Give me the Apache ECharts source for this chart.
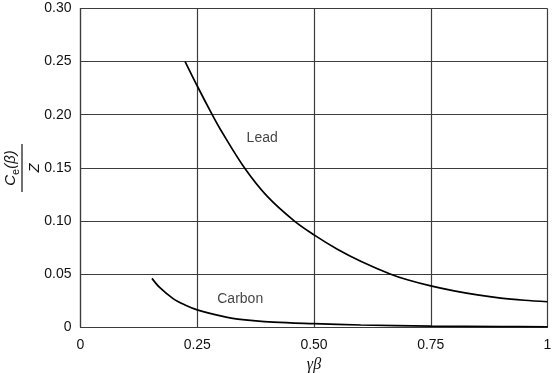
<!DOCTYPE html>
<html>
<head>
<meta charset="utf-8">
<script src="https://cdn.jsdelivr.net/npm/echarts@6/dist/echarts.min.js"></script>
<style>
html,body{margin:0;padding:0;background:#fff;}
#c{width:553px;height:373px;}
</style>
</head>
<body>
<div id="c"></div>
<script>
// Data
const leadX = [0.224, 0.25, 0.282, 0.30, 0.351, 0.40, 0.4575, 0.50, 0.55, 0.60, 0.663, 0.70, 0.75, 0.80, 0.85, 0.90, 0.95, 1.00];
const leadY = [0.250, 0.227, 0.200, 0.1858, 0.150, 0.123, 0.100, 0.0868, 0.0733, 0.062, 0.050, 0.0445, 0.0387, 0.034, 0.0302, 0.0272, 0.0252, 0.0238];
const carbonX = [0.153, 0.17, 0.199, 0.225, 0.25, 0.30, 0.342, 0.413, 0.50, 0.60, 0.75, 0.90, 1.00];
const carbonY = [0.0458, 0.037, 0.0265, 0.0205, 0.0161, 0.0105, 0.0072, 0.0045, 0.0031, 0.0019, 0.0009, 0.0004, 0.0002];
const xTickLabels = ['0', '0.25', '0.50', '0.75', '1'];
const yTickLabels = ['0', '0.05', '0.10', '0.15', '0.20', '0.25', '0.30'];
const curveLabels = ['Lead', 'Carbon'];
const curveLabelX = [0.389, 0.342];
const curveLabelY = [0.178, 0.0261];

const chart = echarts.init(document.getElementById('c'), null, {renderer: 'canvas'});
const font = 'Liberation Sans';
const gridColor = '#3c3c3c';
const textColor = '#111';

const lineSeries = (name, xs, ys) => ({
  name: name,
  type: 'line',
  smooth: 0.35,
  showSymbol: false,
  silent: true,
  lineStyle: {color: '#000', width: 1.7},
  data: xs.map((x, i) => [x, ys[i]])
});

chart.setOption({
  animation: false,
  backgroundColor: '#fff',
  grid: {left: 80.5, right: 5.5, top: 8.5, bottom: 46, containLabel: false, outerBoundsMode: 'none'},
  xAxis: {
    type: 'value', min: 0, max: 1, interval: 0.25,
    axisLine: {show: true, lineStyle: {color: gridColor, width: 1.2}},
    axisTick: {show: false},
    splitLine: {show: true, lineStyle: {color: gridColor, width: 1.2}},
    axisLabel: {
      color: textColor, fontFamily: font, fontSize: 14, margin: 11,
      formatter: (v) => xTickLabels[Math.round(v / 0.25)],
      showMaxLabel: true
    },
    name: 'γβ', nameLocation: 'middle', nameGap: 30,
    nameTextStyle: {fontFamily: 'Liberation Serif', fontStyle: 'italic', fontSize: 16, color: textColor}
  },
  yAxis: {
    type: 'value', min: 0, max: 0.3, interval: 0.05,
    axisLine: {show: true, lineStyle: {color: gridColor, width: 1.2}},
    axisTick: {show: false},
    splitLine: {show: true, lineStyle: {color: gridColor, width: 1.2}},
    axisLabel: {
      color: textColor, fontFamily: font, fontSize: 14, margin: 9,
      formatter: (v) => yTickLabels[Math.round(v / 0.05)]
    }
  },
  series: [
    lineSeries('Lead', leadX, leadY),
    lineSeries('Carbon', carbonX, carbonY),
    {
      type: 'scatter', symbolSize: 0, silent: true,
      data: curveLabels.map((t, i) => ({value: [curveLabelX[i], curveLabelY[i]], name: t})),
      label: {show: true, position: 'inside', formatter: (p) => p.name,
        fontFamily: font, fontSize: 14, color: textColor}
    }
  ],
  graphic: [{
    type: 'group', x: 22, y: 168, rotation: Math.PI / 2,
    children: [
      {type: 'text', x: 0, y: -11, style: {
        text: '{i|C}{s|e}{i|(β)}', align: 'center', verticalAlign: 'middle',
        rich: {
          i: {fontFamily: font, fontStyle: 'italic', fontSize: 15, fill: textColor, verticalAlign: 'bottom'},
          s: {fontFamily: font, fontSize: 11, fill: textColor, verticalAlign: 'bottom', padding: [0, 0, -3, 0]}
        }
      }},
      {type: 'line', shape: {x1: -24, y1: 0, x2: 24, y2: 0}, style: {stroke: textColor, lineWidth: 1.2}},
      {type: 'text', x: 0, y: 13, style: {
        text: 'Z', align: 'center', verticalAlign: 'middle',
        fontFamily: font, fontStyle: 'italic', fontSize: 15, fill: textColor
      }}
    ]
  }]
});
</script>
</body>
</html>
